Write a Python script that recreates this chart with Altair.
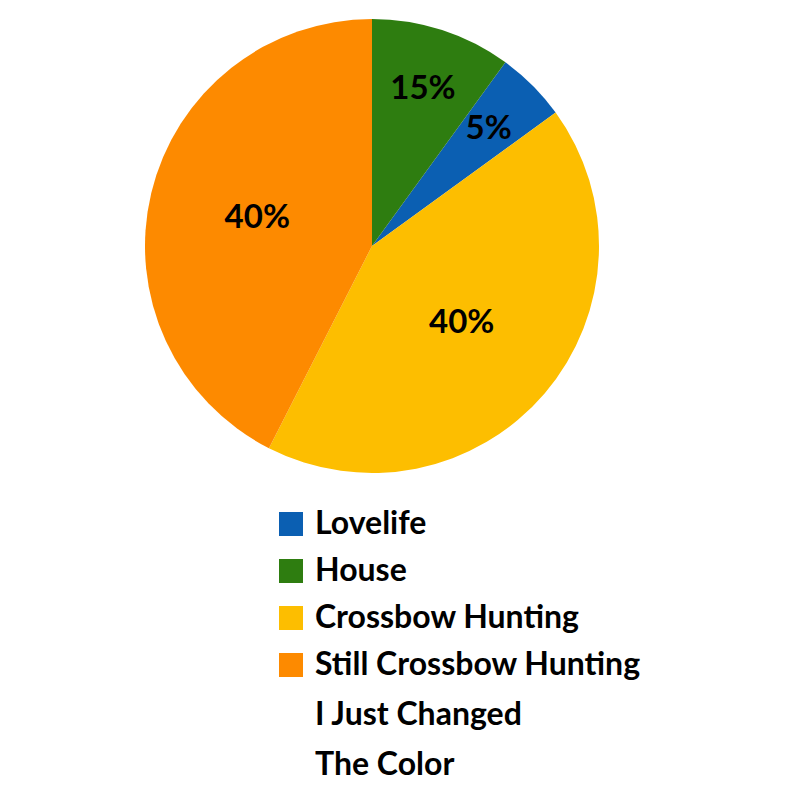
import altair as alt
import pandas as pd

# Legend order categories
categories = ["Lovelife", "House", "Crossbow Hunting", "Still Crossbow Hunting"]
# Slice sizes as drawn (share of the circle, %)
drawn_share = [5, 10, 42.5, 42.5]
# Labels written on the slices
slice_labels = ["5%", "15%", "40%", "40%"]
# Clockwise order from 12 o'clock
clock_order = [1, 0, 2, 3]
colors = ["#0b5fb2", "#2e7d10", "#fdbe00", "#fd8a00"]

df = pd.DataFrame({
    "category": categories,
    "share": drawn_share,
    "label": slice_labels,
    "order": clock_order,
})

FONT = "Lato"

base = alt.Chart(df).encode(
    theta=alt.Theta("share:Q", stack=True),
    order=alt.Order("order:Q"),
)

arcs = base.mark_arc(outerRadius=227, stroke=None).encode(
    color=alt.Color(
        "category:N",
        scale=alt.Scale(domain=categories, range=colors),
        legend=alt.Legend(
            title=None,
            orient="none",
            legendX=267,
            legendY=500,
            symbolType="square",
            symbolSize=576,
            symbolStrokeWidth=0,
            labelFont=FONT,
            labelFontSize=32,
            labelFontWeight="bold",
            labelColor="#000000",
            labelOffset=8,
            labelLimit=600,
            labelBaseline="middle",
            rowPadding=15,
            padding=0,
            labelExpr="datum.label == 'Still Crossbow Hunting' ? ['Still Crossbow Hunting', 'I Just Changed', 'The Color'] : datum.label",
        ),
    )
)

small_text = base.mark_text(
    font=FONT, fontSize=33, fontWeight="bold", color="#000000", radius=165
).transform_calculate(
    t="datum.share < 20 ? datum.label : ''"
).encode(text="t:N")

large_text = base.mark_text(
    font=FONT, fontSize=33, fontWeight="bold", color="#000000", radius=118
).transform_calculate(
    t="datum.share >= 20 ? datum.label : ''"
).encode(text="t:N")

chart = (arcs + small_text + large_text).properties(
    width=728, height=476, padding=0
).configure_view(stroke=None).configure(
    style={"guide-label": {"lineHeight": 50}}
)

chart.save("out.html", embed_options={"renderer": "svg", "actions": False})
